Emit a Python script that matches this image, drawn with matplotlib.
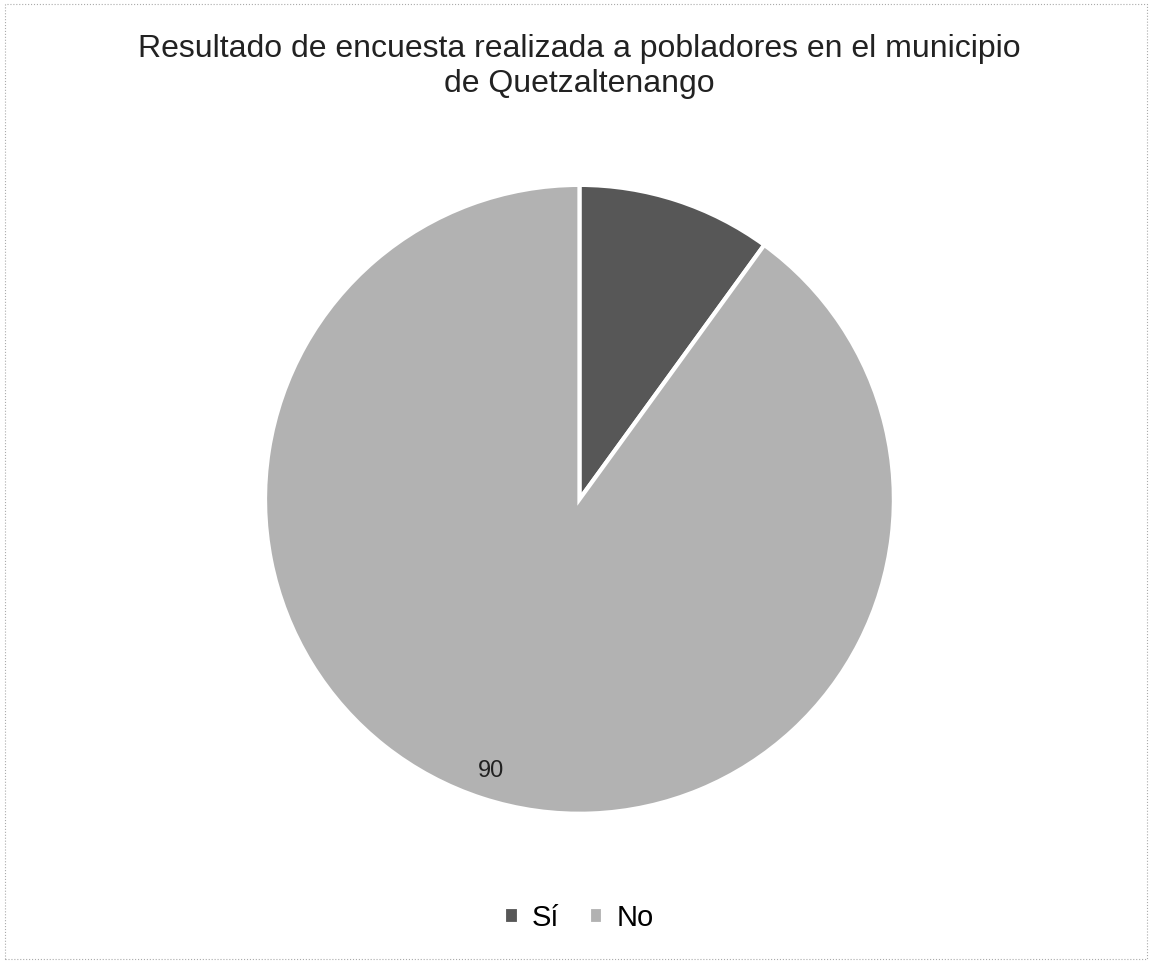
import numpy as np
import matplotlib.pyplot as plt
from matplotlib.patches import Rectangle

plt.rcParams['font.family'] = ['Liberation Sans', 'DejaVu Sans']

categories = ['Sí', 'No']
values = [10, 90]
colors = ['#575757', '#b2b2b2']

fig = plt.figure(figsize=(11.52, 9.63), dpi=100)
ax = fig.add_axes([0.5030 - 0.2730, 0.4815 - 0.3265, 0.5460, 0.6530])

wedges, texts = ax.pie(values, colors=colors, startangle=90, counterclock=False,
                       wedgeprops=dict(edgecolor='white', linewidth=3))
ax.set_xlim(-1, 1)
ax.set_ylim(-1, 1)
ax.set_aspect('equal')

# only the "No" slice shows its value in the original
ang = 90 - 360 * (values[0] + values[1] / 2) / sum(values)
ax.text(0.91 * np.cos(np.radians(ang)), 0.91 * np.sin(np.radians(ang)), str(values[1]),
        ha='center', va='center', fontsize=17, color='#222222')

fig.text(0.5026, 0.965, 'Resultado de encuesta realizada a pobladores en el municipio\nde Quetzaltenango',
         ha='center', va='top', fontsize=23, color='#222222', linespacing=1.25)

fig.legend(wedges, categories, loc='center', bbox_to_anchor=(0.5026, 0.047), ncol=2,
           frameon=False, fontsize=21, handlelength=0.5, handleheight=0.5,
           handletextpad=0.45, columnspacing=1.0)

fig.patches.append(Rectangle((0.004, 0.004), 0.992, 0.992, transform=fig.transFigure,
                             fill=False, edgecolor='#aaaaaa', linewidth=0.8, linestyle=':'))

fig.savefig('out.png', dpi=100)
